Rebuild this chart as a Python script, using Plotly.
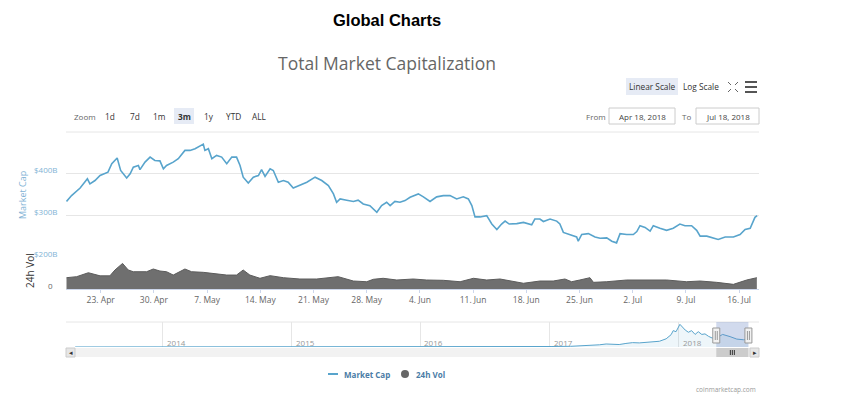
import plotly.graph_objects as go

W, H = 844, 400

# ---------------- data ----------------
mc_dates = [
    "2018-04-18 12:00", "2018-04-19 04:00", "2018-04-20 07:00", "2018-04-21 06:00", "2018-04-21 14:00",
    "2018-04-22 06:00", "2018-04-22 22:00", "2018-04-23 14:00", "2018-04-23 23:00", "2018-04-24 11:00",
    "2018-04-25 04:00", "2018-04-25 15:00", "2018-04-26 02:00", "2018-04-26 10:00", "2018-04-26 21:00",
    "2018-04-27 07:00", "2018-04-27 23:00", "2018-04-28 04:00", "2018-04-28 20:00", "2018-04-29 12:00",
    "2018-04-30 03:00", "2018-04-30 19:00", "2018-05-01 06:00", "2018-05-01 16:00", "2018-05-02 13:00",
    "2018-05-03 05:00", "2018-05-04 02:00", "2018-05-04 18:00", "2018-05-05 10:00", "2018-05-06 02:00",
    "2018-05-06 12:00", "2018-05-06 17:00", "2018-05-07 04:00", "2018-05-07 15:00", "2018-05-08 06:00",
    "2018-05-08 22:00", "2018-05-09 14:00", "2018-05-10 06:00", "2018-05-10 21:00", "2018-05-11 08:00",
    "2018-05-11 18:00", "2018-05-12 10:00", "2018-05-13 02:00", "2018-05-13 18:00", "2018-05-14 04:00",
    "2018-05-14 15:00", "2018-05-15 07:00", "2018-05-15 17:00", "2018-05-16 09:00", "2018-05-17 01:00",
    "2018-05-17 16:00", "2018-05-18 08:00", "2018-05-19 05:00", "2018-05-20 03:00", "2018-05-21 05:00",
    "2018-05-22 02:00", "2018-05-22 23:00", "2018-05-23 15:00", "2018-05-24 01:00", "2018-05-24 12:00",
    "2018-05-25 09:00", "2018-05-26 06:00", "2018-05-26 21:00", "2018-05-27 13:00", "2018-05-28 10:00",
    "2018-05-29 08:00", "2018-05-29 23:00", "2018-05-30 15:00", "2018-05-31 02:00", "2018-05-31 17:00",
    "2018-06-01 09:00", "2018-06-02 01:00", "2018-06-02 17:00", "2018-06-03 19:00", "2018-06-04 11:00",
    "2018-06-05 08:00", "2018-06-06 05:00", "2018-06-07 02:00", "2018-06-07 23:00", "2018-06-08 20:00",
    "2018-06-09 17:00", "2018-06-10 09:00", "2018-06-10 20:00", "2018-06-11 06:00", "2018-06-11 22:00",
    "2018-06-12 19:00", "2018-06-13 11:00", "2018-06-14 03:00", "2018-06-14 18:00", "2018-06-15 05:00",
    "2018-06-15 18:00", "2018-06-16 18:00", "2018-06-17 15:00", "2018-06-18 17:00", "2018-06-19 03:00",
    "2018-06-19 19:00", "2018-06-20 06:00", "2018-06-21 03:00", "2018-06-22 00:00", "2018-06-22 10:00",
    "2018-06-22 21:00", "2018-06-23 18:00", "2018-06-24 15:00", "2018-06-24 20:00", "2018-06-25 07:00",
    "2018-06-26 04:00", "2018-06-27 01:00", "2018-06-27 17:00", "2018-06-28 14:00", "2018-06-29 06:00",
    "2018-06-29 21:00", "2018-06-30 08:00", "2018-07-01 05:00", "2018-07-02 02:00", "2018-07-02 13:00",
    "2018-07-02 23:00", "2018-07-03 15:00", "2018-07-04 07:00", "2018-07-04 17:00", "2018-07-05 14:00",
    "2018-07-06 11:00", "2018-07-07 08:00", "2018-07-08 05:00", "2018-07-08 21:00", "2018-07-09 18:00",
    "2018-07-10 10:00", "2018-07-10 21:00", "2018-07-11 18:00", "2018-07-12 15:00", "2018-07-13 06:00",
    "2018-07-14 04:00", "2018-07-15 06:00", "2018-07-16 03:00", "2018-07-16 19:00", "2018-07-17 11:00",
    "2018-07-17 19:00", "2018-07-18 02:00", "2018-07-18 09:00",
]
mc_values = [  # total market cap, $ billions
    334, 348, 366, 388, 376,
    384, 396, 400, 404, 424,
    438, 408, 396, 390, 400,
    416, 420, 410, 428, 440,
    432, 431, 412, 420, 428,
    436, 456, 456, 460, 468,
    471, 456, 460, 436, 444,
    440, 424, 440, 440, 420,
    392, 378, 392, 396, 410,
    394, 412, 408, 380, 384,
    380, 366, 373, 380, 392,
    384, 372, 352, 332, 340,
    337, 334, 337, 328, 324,
    308, 324, 332, 324, 334,
    332, 336, 344, 352, 345,
    334, 345, 348, 348, 340,
    345, 340, 324, 297, 297,
    300, 280, 267, 280, 287,
    280, 281, 284, 278, 292,
    292, 286, 292, 287, 280,
    260, 255, 249, 239, 255,
    257, 249, 246, 247, 239,
    235, 257, 255, 255, 262,
    276, 272, 263, 276, 270,
    265, 270, 280, 276, 276,
    265, 251, 251, 247, 243,
    249, 249, 255, 267, 270,
    284, 296, 300,
]

vol_dates = [
    "2018-04-18 12:00", "2018-04-19 20:00", "2018-04-21 09:00", "2018-04-22 06:00", "2018-04-22 22:00",
    "2018-04-24 05:00", "2018-04-24 21:00", "2018-04-25 21:00", "2018-04-26 15:00", "2018-04-27 07:00",
    "2018-04-29 01:00", "2018-04-29 22:00", "2018-04-30 19:00", "2018-05-01 16:00", "2018-05-02 13:00",
    "2018-05-04 02:00", "2018-05-04 23:00", "2018-05-06 12:00", "2018-05-07 20:00", "2018-05-09 14:00",
    "2018-05-10 21:00", "2018-05-11 18:00", "2018-05-12 15:00", "2018-05-13 23:00", "2018-05-15 07:00",
    "2018-05-17 01:00", "2018-05-19 05:00", "2018-05-21 10:00", "2018-05-24 06:00", "2018-05-26 06:00",
    "2018-05-28 00:00", "2018-05-28 21:00", "2018-05-30 04:00", "2018-05-31 23:00", "2018-06-03 03:00",
    "2018-06-04 21:00", "2018-06-07 02:00", "2018-06-09 07:00", "2018-06-11 01:00", "2018-06-12 19:00",
    "2018-06-14 13:00", "2018-06-15 10:00", "2018-06-17 15:00", "2018-06-19 19:00", "2018-06-21 13:00",
    "2018-06-23 02:00", "2018-06-23 23:00", "2018-06-25 01:00", "2018-06-26 09:00", "2018-06-26 20:00",
    "2018-06-28 14:00", "2018-07-01 05:00", "2018-07-04 07:00", "2018-07-06 11:00", "2018-07-09 02:00",
    "2018-07-10 21:00", "2018-07-13 01:00", "2018-07-15 06:00", "2018-07-17 00:00", "2018-07-18 08:00",
]
vol_values = [  # 24h volume, $ billions
    14.6, 15.9, 21.0, 19.0, 17.0,
    17.0, 24.5, 33.0, 24.5, 22.3,
    22.3, 25.8, 23.2, 22.3, 18.0,
    25.8, 22.3, 21.5, 20.3, 18.0,
    18.0, 24.5, 18.0, 13.8, 17.2,
    14.6, 12.9, 12.9, 15.9, 10.3,
    9.4, 12.5, 13.8, 11.6, 12.9,
    11.6, 11.2, 9.4, 13.8, 11.6,
    12.9, 11.6, 7.4, 10.3, 10.3,
    12.9, 9.4, 11.6, 14.6, 8.6,
    9.4, 11.6, 11.6, 11.6, 9.4,
    10.3, 8.6, 6.0, 11.6, 14.6,
]

nav_dates = [
    "2013-04-28", "2013-07-01", "2013-10-01", "2013-11-15", "2013-12-04", "2014-01-01",
    "2014-03-01", "2014-06-01", "2014-09-01", "2014-12-01", "2015-03-01", "2015-06-01",
    "2015-09-01", "2015-12-01", "2016-03-01", "2016-06-15", "2016-09-01", "2016-12-01",
    "2017-01-05", "2017-03-01", "2017-04-14", "2017-05-22", "2017-06-10", "2017-06-28",
    "2017-07-17", "2017-08-05", "2017-08-24", "2017-09-12", "2017-10-11", "2017-11-08",
    "2017-11-27", "2017-12-11", "2017-12-17", "2017-12-25", "2018-01-05", "2018-01-20",
    "2018-01-29", "2018-02-07", "2018-02-17", "2018-02-26", "2018-03-08", "2018-03-17",
    "2018-03-27", "2018-04-06", "2018-04-18", "2018-05-06", "2018-05-27", "2018-06-15",
    "2018-07-04", "2018-07-18",
]
nav_values = [  # $ billions
    1.5, 1.2, 1.6, 5, 14, 10,
    8, 8, 6, 5, 4, 4,
    4, 6, 7, 11, 10, 12,
    18, 25, 40, 80, 110, 105,
    90, 130, 160, 150, 170, 210,
    300, 450, 600, 560, 830, 620,
    540, 600, 460, 560, 460, 480,
    390, 330, 330, 460, 380, 290,
    265, 300,
]

y_tick_vals = [200, 300, 400]
y_tick_text = ["$200B", "$300B", "$400B"]
year_ticks = ["2014-01-01", "2015-01-01", "2016-01-01", "2017-01-01", "2018-01-01"]
year_text = ["2014", "2015", "2016", "2017", "2018"]
zoom_buttons = ["1d", "7d", "1m", "3m", "1y", "YTD", "ALL"]
selected_button = "3m"
from_text, to_text = "Apr 18, 2018", "Jul 18, 2018"
sel_start, sel_end = "2018-04-18", "2018-07-18"

# ---------------- helpers ----------------
def px(x):
    return x / W

def py(y):
    return 1 - y / H

X0, X1 = 66, 759
BLUE = "#58a4cc"
FONT = "Open Sans"

fig = go.Figure()

fig.add_trace(go.Scatter(x=mc_dates, y=mc_values, mode="lines",
                         line=dict(color=BLUE, width=1.6), xaxis="x", yaxis="y",
                         name="Market Cap", hoverinfo="skip"))
fig.add_trace(go.Scatter(x=vol_dates, y=vol_values, mode="lines", fill="tozeroy",
                         fillcolor="#6f6f6f", line=dict(color="#5c5c5c", width=1),
                         xaxis="x2", yaxis="y2", name="24h Vol", hoverinfo="skip"))
fig.add_trace(go.Scatter(x=nav_dates, y=nav_values, mode="lines", fill="tozeroy",
                         fillcolor="rgba(88,164,204,0.10)", line=dict(color=BLUE, width=1),
                         xaxis="x3", yaxis="y3", name="nav", hoverinfo="skip"))

main_range = ["2018-04-18 10:25", "2018-07-18 14:50"]
nav_range = ["2013-04-02", "2018-08-17"]

shapes = []
ann = []


def text(x, y, t, size=8, color="#333333", family=FONT, xanchor="center", yanchor="middle", **kw):
    d = dict(x=px(x), y=py(y), xref="paper", yref="paper", text=t, showarrow=False,
             xanchor=xanchor, yanchor=yanchor, font=dict(size=size, color=color, family=family))
    d.update(kw)
    ann.append(d)


# top border of main pane
shapes.append(dict(type="line", xref="paper", yref="paper", x0=px(X0), x1=px(X1),
                   y0=py(132), y1=py(132), line=dict(color="#e6e6e6", width=1)))
# navigator top border
shapes.append(dict(type="line", xref="paper", yref="paper", x0=px(X0), x1=px(X1),
                   y0=py(322), y1=py(322), line=dict(color="#e6e6e6", width=1)))
# navigator selection mask
shapes.append(dict(type="rect", xref="x3", yref="paper", x0=sel_start, x1=sel_end,
                   y0=py(347), y1=py(322), fillcolor="rgba(102,133,194,0.3)", line=dict(width=0), layer="above"))
for d in (sel_start, sel_end):
    shapes.append(dict(type="rect", xref="x3", yref="paper", xsizemode="pixel", xanchor=d,
                       x0=-3.5, x1=3.5, y0=py(343), y1=py(328), fillcolor="#f2f2f2",
                       line=dict(color="#999999", width=1), layer="above"))
    for dx in (-1, 1):
        shapes.append(dict(type="line", xref="x3", yref="paper", xsizemode="pixel", xanchor=d,
                           x0=dx, x1=dx, y0=py(340), y1=py(331), line=dict(color="#999999", width=1)))
# scrollbar
shapes.append(dict(type="rect", xref="paper", yref="paper", x0=px(X0), x1=px(X1),
                   y0=py(357), y1=py(348), fillcolor="#f2f2f2", line=dict(width=0)))
shapes.append(dict(type="rect", xref="paper", yref="paper", x0=px(X0), x1=px(X0 + 9),
                   y0=py(357), y1=py(348), fillcolor="#e6e6e6", line=dict(color="#cccccc", width=1)))
shapes.append(dict(type="rect", xref="paper", yref="paper", x0=px(X1 - 9), x1=px(X1),
                   y0=py(357), y1=py(348), fillcolor="#e6e6e6", line=dict(color="#cccccc", width=1)))
shapes.append(dict(type="rect", xref="x3", yref="paper", x0=sel_start, x1=sel_end,
                   y0=py(357), y1=py(348), fillcolor="#cccccc", line=dict(width=0)))
for dx in (-2, 0, 2):
    shapes.append(dict(type="line", xref="x3", yref="paper", xsizemode="pixel",
                       xanchor="2018-06-02 12:00", x0=dx, x1=dx, y0=py(355), y1=py(350),
                       line=dict(color="#333333", width=1)))
text(X0 + 4.5, 352.5, "◂", size=7, family="DejaVu Sans")
text(X1 - 4.5, 352.5, "▸", size=7, family="DejaVu Sans")

# year labels in navigator
for v, t in zip(year_ticks, year_text):
    ann.append(dict(x=v, y=py(342), xref="x3", yref="paper", text=t, showarrow=False,
                    xanchor="left", yanchor="middle", xshift=2,
                    font=dict(size=8, color="#999999", family=FONT)))

# y tick labels main
for v, t in zip(y_tick_vals, y_tick_text):
    ann.append(dict(x=px(59), y=v, xref="paper", yref="y", text=t, showarrow=False,
                    xanchor="right", yanchor="middle", yshift=4,
                    font=dict(size=8, color="#7fb3d5", family=FONT)))
ann.append(dict(x=px(55), y=0, xref="paper", yref="y2", text="0", showarrow=False,
                xanchor="right", yanchor="middle", yshift=4,
                font=dict(size=8, color="#666666", family=FONT)))
text(22, 195, "Market Cap", size=9, color="#7fb3d5", textangle=-90)
text(30, 271, "24h Vol", size=10, color="#333333", textangle=-90)

# titles
text(387, 20, "<b>Global Charts</b>", size=16.5, color="#000000", family="Liberation Sans")
text(387, 63, "Total Market Capitalization", size=17.5, color="#666666")

# scale buttons
shapes.append(dict(type="rect", xref="paper", yref="paper", x0=px(626), x1=px(678),
                   y0=py(95), y1=py(78), fillcolor="#e6ebf5", line=dict(width=0)))
text(652, 86.5, "Linear Scale", size=8.3)
text(701, 86.5, "Log Scale", size=8.3)
# fullscreen icon
cx, cy = 733, 87
for sx in (-1, 1):
    for sy in (-1, 1):
        shapes.append(dict(type="line", xref="paper", yref="paper",
                           x0=px(cx + sx * 2), x1=px(cx + sx * 5), y0=py(cy + sy * 2), y1=py(cy + sy * 5),
                           line=dict(color="#666666", width=1)))
# hamburger
for yy in (82, 87, 92):
    shapes.append(dict(type="line", xref="paper", yref="paper", x0=px(745), x1=px(757),
                       y0=py(yy), y1=py(yy), line=dict(color="#555555", width=2)))

# zoom buttons
text(85, 116, "Zoom", size=8, color="#666666")
btn_x = [110, 135, 159, 184, 209, 233, 259]
for bx, t in zip(btn_x, zoom_buttons):
    if t == selected_button:
        shapes.append(dict(type="rect", xref="paper", yref="paper", x0=px(bx - 10), x1=px(bx + 10),
                           y0=py(124), y1=py(108), fillcolor="#e6ebf5", line=dict(width=0)))
        txt = "<b>" + t + "</b>"
    else:
        txt = t
    text(bx, 116, txt, size=8.3)

# date range inputs
text(596, 116, "From", size=8, color="#666666")
shapes.append(dict(type="rect", xref="paper", yref="paper", x0=px(609), x1=px(675),
                   y0=py(124), y1=py(108), fillcolor="white", line=dict(color="#cccccc", width=1)))
text(642, 116, from_text, size=8, color="#444444")
text(686, 116, "To", size=8, color="#666666")
shapes.append(dict(type="rect", xref="paper", yref="paper", x0=px(696), x1=px(759),
                   y0=py(124), y1=py(108), fillcolor="white", line=dict(color="#cccccc", width=1)))
text(727.5, 116, to_text, size=8, color="#444444")

# legend
shapes.append(dict(type="line", xref="paper", yref="paper", x0=px(328), x1=px(338),
                   y0=py(374), y1=py(374), line=dict(color=BLUE, width=2)))
text(342, 374, "<b>Market Cap</b>", size=8, color="#4a7ca6", xanchor="left")
shapes.append(dict(type="circle", xref="paper", yref="paper", x0=px(401), x1=px(409),
                   y0=py(378), y1=py(370), fillcolor="#666666", line=dict(width=0)))
text(414, 374, "<b>24h Vol</b>", size=8, color="#4a7ca6", xanchor="left")
# credits
text(758, 389, "coinmarketcap.com", size=6.5, color="#999999", xanchor="right")

dom_x = [px(X0), px(X1)]
fig.update_layout(
    width=W, height=H, margin=dict(l=0, r=0, t=0, b=0, pad=0),
    paper_bgcolor="white", plot_bgcolor="white", showlegend=False,
    font=dict(family=FONT),
    xaxis=dict(domain=dom_x, range=main_range, anchor="y", showticklabels=False,
               showgrid=False, zeroline=False, type="date"),
    yaxis=dict(domain=[py(257.5), py(132)], range=[200, 500], tickvals=[200, 300, 400, 500],
               showticklabels=False, gridcolor="#e6e6e6", gridwidth=1, zeroline=False, anchor="x"),
    xaxis2=dict(domain=dom_x, range=main_range, anchor="y2", matches="x", type="date",
                tickformat="%-d. %b", tick0="2018-04-23", dtick=7 * 86400000,
                ticks="outside", ticklen=3, tickcolor="#ccd6eb", showline=True, linecolor="#ccd6eb",
                showgrid=False, zeroline=False, tickfont=dict(size=8.5, color="#666666", family=FONT)),
    yaxis2=dict(domain=[py(289), py(258)], range=[0, 40], tickvals=[0, 40], showticklabels=False,
                gridcolor="#e6e6e6", zeroline=False, anchor="x2"),
    xaxis3=dict(domain=dom_x, range=nav_range, anchor="y3", type="date", tickvals=year_ticks,
                showticklabels=False, showgrid=True, gridcolor="#e6e6e6", zeroline=False),
    yaxis3=dict(domain=[py(347), py(322)], range=[0, 915], showticklabels=False, showgrid=False,
                zeroline=False, anchor="x3"),
    shapes=shapes, annotations=ann,
)

fig.write_html("out.html", config={"displayModeBar": False},
               post_script="document.body.style.margin='0px';")
